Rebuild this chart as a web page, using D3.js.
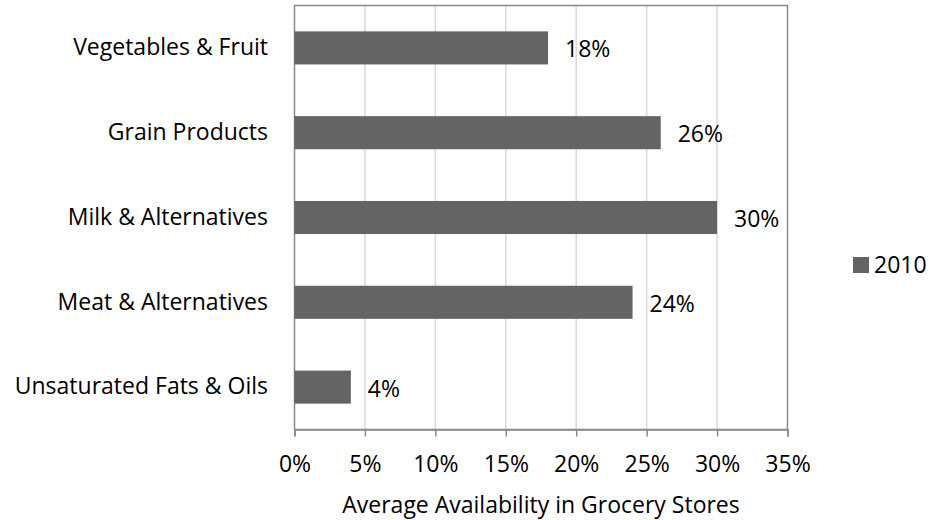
<!DOCTYPE html>
<html>
<head>
<meta charset="utf-8">
<script src="https://cdn.jsdelivr.net/npm/d3@7"></script>
<style>
  body { margin: 0; background: #fff; }
  svg text { font-family: "Open Sans", sans-serif; fill: #000; }
</style>
</head>
<body>
<svg id="chart" width="932" height="520"></svg>
<script>
var categories = ["Vegetables & Fruit", "Grain Products", "Milk & Alternatives", "Meat & Alternatives", "Unsaturated Fats & Oils"];
var values2010 = [18, 26, 30, 24, 4];
var xTicks = [0, 5, 10, 15, 20, 25, 30, 35];
var seriesName = "2010";
var xTitle = "Average Availability in Grocery Stores";

var svg = d3.select("#chart");
var plotL = 294.5, plotR = 787.5, plotT = 5.5, plotB = 429.5;
var fs = "23px";

var x = d3.scaleLinear().domain([0, 35]).range([plotL, plotR]);
var y = d3.scaleBand().domain(categories).range([plotT, plotB])
  .paddingInner(0.61).paddingOuter(0.305);

// gridlines
svg.append("g").selectAll("line")
  .data(xTicks.slice(1, -1))
  .enter().append("line")
  .attr("x1", function (d) { return x(d); })
  .attr("x2", function (d) { return x(d); })
  .attr("y1", plotT).attr("y2", plotB)
  .attr("stroke", "#d9d9d9").attr("stroke-width", 1.5);

// plot border
svg.append("rect")
  .attr("x", plotL).attr("y", plotT)
  .attr("width", plotR - plotL).attr("height", plotB - plotT)
  .attr("fill", "none").attr("stroke", "#898989").attr("stroke-width", 1.5);

// bars
svg.append("g").selectAll("rect")
  .data(values2010)
  .enter().append("rect")
  .attr("x", x(0))
  .attr("y", function (d, i) { return y(categories[i]); })
  .attr("width", function (d) { return x(d) - x(0); })
  .attr("height", y.bandwidth())
  .attr("fill", "#646464");

// value labels
svg.append("g").selectAll("text")
  .data(values2010)
  .enter().append("text")
  .attr("x", function (d) { return x(d) + 17; })
  .attr("y", function (d, i) { return y(categories[i]) + y.bandwidth() / 2 + 1.5; })
  .attr("dy", "0.35em")
  .style("font-size", fs)
  .text(function (d) { return d + "%"; });

// x axis
var xAxis = d3.axisBottom(x).tickValues(xTicks).tickSize(7).tickPadding(19)
  .tickFormat(function (d) { return d + "%"; });
var gx = svg.append("g").attr("transform", "translate(0," + plotB + ")").call(xAxis);
gx.select(".domain").attr("stroke", "#898989").attr("stroke-width", 1.5);
gx.selectAll(".tick line").attr("stroke", "#898989").attr("stroke-width", 1.5);
gx.selectAll(".tick text").style("font-size", fs)
  .style("font-family", "'Open Sans', sans-serif").attr("fill", "#000");

// category labels
var yAxis = d3.axisLeft(y).tickSize(0).tickPadding(26.5);
var gy = svg.append("g").attr("transform", "translate(" + plotL + ",0)").call(yAxis);
gy.select(".domain").remove();
gy.selectAll(".tick text").style("font-size", fs)
  .style("font-family", "'Open Sans', sans-serif").attr("fill", "#000");

// x title
svg.append("text")
  .attr("x", (plotL + plotR) / 2).attr("y", 513)
  .attr("text-anchor", "middle")
  .style("font-size", fs)
  .text(xTitle);

// legend
var lg = svg.append("g").attr("transform", "translate(853,257)");
lg.append("rect").attr("width", 16).attr("height", 16).attr("fill", "#646464");
lg.append("text").attr("x", 21).attr("y", 8).attr("dy", "0.35em")
  .style("font-size", fs).text(seriesName);
</script>
</body>
</html>
